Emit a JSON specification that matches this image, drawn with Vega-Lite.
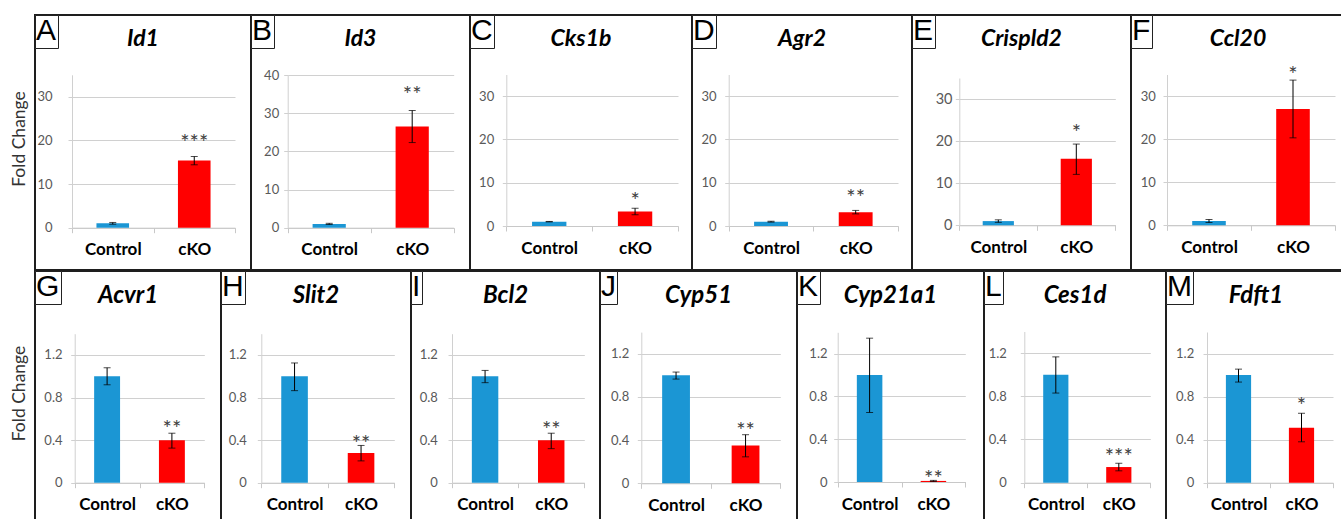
{
"$schema": "https://vega.github.io/schema/vega-lite/v6.json",
"padding": {"left": 9, "top": 13, "right": 0, "bottom": 0},
"background": "white",
"datasets": {"expr": [
{"panel":"A","group":"Control","mean":1.0,"lo":0.8,"hi":1.2,"sig":""},
{"panel":"A","group":"cKO","mean":15.4,"lo":14.4,"hi":16.3,"sig":"***"},
{"panel":"B","group":"Control","mean":1.0,"lo":0.85,"hi":1.15,"sig":""},
{"panel":"B","group":"cKO","mean":26.5,"lo":22.3,"hi":30.7,"sig":"**"},
{"panel":"C","group":"Control","mean":1.0,"lo":0.95,"hi":1.05,"sig":""},
{"panel":"C","group":"cKO","mean":3.35,"lo":2.6,"hi":4.1,"sig":"*"},
{"panel":"D","group":"Control","mean":1.0,"lo":0.9,"hi":1.1,"sig":""},
{"panel":"D","group":"cKO","mean":3.2,"lo":2.8,"hi":3.6,"sig":"**"},
{"panel":"E","group":"Control","mean":1.0,"lo":0.7,"hi":1.3,"sig":""},
{"panel":"E","group":"cKO","mean":15.8,"lo":12.1,"hi":19.3,"sig":"*"},
{"panel":"F","group":"Control","mean":1.0,"lo":0.65,"hi":1.35,"sig":""},
{"panel":"F","group":"cKO","mean":27.0,"lo":20.3,"hi":33.7,"sig":"*"},
{"panel":"G","group":"Control","mean":1.0,"lo":0.92,"hi":1.08,"sig":""},
{"panel":"G","group":"cKO","mean":0.4,"lo":0.325,"hi":0.465,"sig":"**"},
{"panel":"H","group":"Control","mean":1.0,"lo":0.865,"hi":1.125,"sig":""},
{"panel":"H","group":"cKO","mean":0.28,"lo":0.205,"hi":0.35,"sig":"**"},
{"panel":"I","group":"Control","mean":1.0,"lo":0.94,"hi":1.055,"sig":""},
{"panel":"I","group":"cKO","mean":0.4,"lo":0.32,"hi":0.465,"sig":"**"},
{"panel":"J","group":"Control","mean":1.0,"lo":0.965,"hi":1.03,"sig":""},
{"panel":"J","group":"cKO","mean":0.35,"lo":0.245,"hi":0.45,"sig":"**"},
{"panel":"K","group":"Control","mean":1.0,"lo":0.65,"hi":1.345,"sig":""},
{"panel":"K","group":"cKO","mean":0.01,"lo":0.005,"hi":0.015,"sig":"**"},
{"panel":"L","group":"Control","mean":1.0,"lo":0.83,"hi":1.165,"sig":""},
{"panel":"L","group":"cKO","mean":0.145,"lo":0.11,"hi":0.18,"sig":"***"},
{"panel":"M","group":"Control","mean":1.0,"lo":0.935,"hi":1.055,"sig":""},
{"panel":"M","group":"cKO","mean":0.51,"lo":0.38,"hi":0.645,"sig":"*"}
]},
"vconcat": [
{"hconcat": [
{"width":216,"height":255,"title":{"text":"Id1"},"data":{"name":"expr"},"transform":[{"filter":"datum.panel == 'A'"}],
"layer":[
{"mark":{"type":"bar","width":{"band":0.4}},"encoding":{
"x":{"field":"group","type":"nominal","sort":["Control","cKO"],"scale":{"domain":["Control","cKO"],"range":[37,200],"paddingInner":0,"paddingOuter":0},"axis":{"offset":-42.3,"title":null}},
"y":{"field":"mean","type":"quantitative","title":"Fold Change","scale":{"domain":[0,35],"range":[212.7,59.8],"nice":false,"zero":true},"axis":{"offset":-37,"values":[0,10,20,30],"labelPadding":16,"titleX":-43.5,"titleY":123.5,"titleFontSize":17.5}},
"color":{"field":"group","type":"nominal","scale":{"domain":["Control","cKO"],"range":["#1b96d4","#ff0000"]},"legend":{"values":["Control"],"labelExpr":"''","legendX":0,"legendY":0,"title":"A"}}}},
{"mark":{"type":"rule","color":"#000","strokeWidth":1},"encoding":{"x":{"field":"group","type":"nominal","title":null},"y":{"field":"lo","type":"quantitative","title":"Fold Change"},"y2":{"field":"hi"}}},
{"mark":{"type":"tick","color":"#000","thickness":1,"size":7},"encoding":{"x":{"field":"group","type":"nominal","title":null},"y":{"field":"lo","type":"quantitative","title":"Fold Change"}}},
{"mark":{"type":"tick","color":"#000","thickness":1,"size":7},"encoding":{"x":{"field":"group","type":"nominal","title":null},"y":{"field":"hi","type":"quantitative","title":"Fold Change"}}},
{"mark":{"type":"text","dy":-6.6,"baseline":"alphabetic","font":"Lato","fontSize":22,"color":"#404040"},"encoding":{"x":{"field":"group","type":"nominal","title":null},"y":{"field":"hi","type":"quantitative","title":"Fold Change"},"text":{"field":"sig"}}}
]},
{"width":219,"height":255,"title":{"text":"Id3"},"data":{"name":"expr"},"transform":[{"filter":"datum.panel == 'B'"}],
"layer":[
{"mark":{"type":"bar","width":{"band":0.4}},"encoding":{
"x":{"field":"group","type":"nominal","sort":["Control","cKO"],"scale":{"domain":["Control","cKO"],"range":[36.7,202.7],"paddingInner":0,"paddingOuter":0},"axis":{"offset":-42.3,"title":null}},
"y":{"field":"mean","type":"quantitative","title":null,"scale":{"domain":[0,40],"range":[212.7,60],"nice":false,"zero":true},"axis":{"offset":-36.7,"values":[0,10,20,30,40],"labelPadding":5}},
"color":{"field":"group","type":"nominal","scale":{"domain":["Control","cKO"],"range":["#1b96d4","#ff0000"]},"legend":{"values":["Control"],"labelExpr":"''","legendX":0,"legendY":0,"title":"B"}}}},
{"mark":{"type":"rule","color":"#000","strokeWidth":1},"encoding":{"x":{"field":"group","type":"nominal","title":null},"y":{"field":"lo","type":"quantitative","title":null},"y2":{"field":"hi"}}},
{"mark":{"type":"tick","color":"#000","thickness":1,"size":7},"encoding":{"x":{"field":"group","type":"nominal","title":null},"y":{"field":"lo","type":"quantitative","title":null}}},
{"mark":{"type":"tick","color":"#000","thickness":1,"size":7},"encoding":{"x":{"field":"group","type":"nominal","title":null},"y":{"field":"hi","type":"quantitative","title":null}}},
{"mark":{"type":"text","dy":-9.0,"baseline":"alphabetic","font":"Lato","fontSize":22,"color":"#404040"},"encoding":{"x":{"field":"group","type":"nominal","title":null},"y":{"field":"hi","type":"quantitative","title":null},"text":{"field":"sig"}}}
]},
{"width":222,"height":255,"title":{"text":"Cks1b"},"data":{"name":"expr"},"transform":[{"filter":"datum.panel == 'C'"}],
"layer":[
{"mark":{"type":"bar","width":{"band":0.4}},"encoding":{
"x":{"field":"group","type":"nominal","sort":["Control","cKO"],"scale":{"domain":["Control","cKO"],"range":[36.3,208],"paddingInner":0,"paddingOuter":0},"axis":{"offset":-44,"title":null}},
"y":{"field":"mean","type":"quantitative","title":null,"scale":{"domain":[0,35],"range":[211,59.5],"nice":false,"zero":true},"axis":{"offset":-36.3,"values":[0,10,20,30],"labelPadding":8.6}},
"color":{"field":"group","type":"nominal","scale":{"domain":["Control","cKO"],"range":["#1b96d4","#ff0000"]},"legend":{"values":["Control"],"labelExpr":"''","legendX":0,"legendY":0,"title":"C"}}}},
{"mark":{"type":"rule","color":"#000","strokeWidth":1},"encoding":{"x":{"field":"group","type":"nominal","title":null},"y":{"field":"lo","type":"quantitative","title":null},"y2":{"field":"hi"}}},
{"mark":{"type":"tick","color":"#000","thickness":1,"size":7},"encoding":{"x":{"field":"group","type":"nominal","title":null},"y":{"field":"lo","type":"quantitative","title":null}}},
{"mark":{"type":"tick","color":"#000","thickness":1,"size":7},"encoding":{"x":{"field":"group","type":"nominal","title":null},"y":{"field":"hi","type":"quantitative","title":null}}},
{"mark":{"type":"text","dy":0,"baseline":"alphabetic","font":"Lato","fontSize":22,"color":"#404040"},"encoding":{"x":{"field":"group","type":"nominal","title":null},"y":{"field":"hi","type":"quantitative","title":null},"text":{"field":"sig"}}}
]},
{"width":220,"height":255,"title":{"text":"Agr2"},"data":{"name":"expr"},"transform":[{"filter":"datum.panel == 'D'"}],
"layer":[
{"mark":{"type":"bar","width":{"band":0.4}},"encoding":{
"x":{"field":"group","type":"nominal","sort":["Control","cKO"],"scale":{"domain":["Control","cKO"],"range":[36.7,206],"paddingInner":0,"paddingOuter":0},"axis":{"offset":-44,"title":null}},
"y":{"field":"mean","type":"quantitative","title":null,"scale":{"domain":[0,35],"range":[211,59.5],"nice":false,"zero":true},"axis":{"offset":-36.7,"values":[0,10,20,30],"labelPadding":8.7}},
"color":{"field":"group","type":"nominal","scale":{"domain":["Control","cKO"],"range":["#1b96d4","#ff0000"]},"legend":{"values":["Control"],"labelExpr":"''","legendX":0,"legendY":0,"title":"D"}}}},
{"mark":{"type":"rule","color":"#000","strokeWidth":1},"encoding":{"x":{"field":"group","type":"nominal","title":null},"y":{"field":"lo","type":"quantitative","title":null},"y2":{"field":"hi"}}},
{"mark":{"type":"tick","color":"#000","thickness":1,"size":7},"encoding":{"x":{"field":"group","type":"nominal","title":null},"y":{"field":"lo","type":"quantitative","title":null}}},
{"mark":{"type":"tick","color":"#000","thickness":1,"size":7},"encoding":{"x":{"field":"group","type":"nominal","title":null},"y":{"field":"hi","type":"quantitative","title":null}}},
{"mark":{"type":"text","dy":-5.6,"baseline":"alphabetic","font":"Lato","fontSize":22,"color":"#404040"},"encoding":{"x":{"field":"group","type":"nominal","title":null},"y":{"field":"hi","type":"quantitative","title":null},"text":{"field":"sig"}}}
]},
{"width":219,"height":255,"title":{"text":"Crispld2"},"data":{"name":"expr"},"transform":[{"filter":"datum.panel == 'E'"}],
"layer":[
{"mark":{"type":"bar","width":{"band":0.4}},"encoding":{
"x":{"field":"group","type":"nominal","sort":["Control","cKO"],"scale":{"domain":["Control","cKO"],"range":[47.3,203.3],"paddingInner":0,"paddingOuter":0},"axis":{"offset":-44.7,"title":null}},
"y":{"field":"mean","type":"quantitative","title":null,"scale":{"domain":[0,35],"range":[210.3,63],"nice":false,"zero":true},"axis":{"offset":-47.3,"values":[0,10,20,30],"labelPadding":3.3,"labelFontSize":14.5}},
"color":{"field":"group","type":"nominal","scale":{"domain":["Control","cKO"],"range":["#1b96d4","#ff0000"]},"legend":{"values":["Control"],"labelExpr":"''","legendX":0,"legendY":0,"title":"E"}}}},
{"mark":{"type":"rule","color":"#000","strokeWidth":1},"encoding":{"x":{"field":"group","type":"nominal","title":null},"y":{"field":"lo","type":"quantitative","title":null},"y2":{"field":"hi"}}},
{"mark":{"type":"tick","color":"#000","thickness":1,"size":7},"encoding":{"x":{"field":"group","type":"nominal","title":null},"y":{"field":"lo","type":"quantitative","title":null}}},
{"mark":{"type":"tick","color":"#000","thickness":1,"size":7},"encoding":{"x":{"field":"group","type":"nominal","title":null},"y":{"field":"hi","type":"quantitative","title":null}}},
{"mark":{"type":"text","dy":-4.0,"baseline":"alphabetic","font":"Lato","fontSize":22,"color":"#404040"},"encoding":{"x":{"field":"group","type":"nominal","title":null},"y":{"field":"hi","type":"quantitative","title":null},"text":{"field":"sig"}}}
]},
{"width":214,"height":255,"title":{"text":"Ccl20"},"data":{"name":"expr"},"transform":[{"filter":"datum.panel == 'F'"}],
"layer":[
{"mark":{"type":"bar","width":{"band":0.4}},"encoding":{
"x":{"field":"group","type":"nominal","sort":["Control","cKO"],"scale":{"domain":["Control","cKO"],"range":[36,204],"paddingInner":0,"paddingOuter":0},"axis":{"offset":-44.7,"title":null}},
"y":{"field":"mean","type":"quantitative","title":null,"scale":{"domain":[0,35],"range":[210.3,59.5],"nice":false,"zero":true},"axis":{"offset":-36,"values":[0,10,20,30],"labelPadding":7.7}},
"color":{"field":"group","type":"nominal","scale":{"domain":["Control","cKO"],"range":["#1b96d4","#ff0000"]},"legend":{"values":["Control"],"labelExpr":"''","legendX":0,"legendY":0,"title":" F"}}}},
{"mark":{"type":"rule","color":"#000","strokeWidth":1},"encoding":{"x":{"field":"group","type":"nominal","title":null},"y":{"field":"lo","type":"quantitative","title":null},"y2":{"field":"hi"}}},
{"mark":{"type":"tick","color":"#000","thickness":1,"size":7},"encoding":{"x":{"field":"group","type":"nominal","title":null},"y":{"field":"lo","type":"quantitative","title":null}}},
{"mark":{"type":"tick","color":"#000","thickness":1,"size":7},"encoding":{"x":{"field":"group","type":"nominal","title":null},"y":{"field":"hi","type":"quantitative","title":null}}},
{"mark":{"type":"text","dy":2.0,"baseline":"alphabetic","font":"Lato","fontSize":22,"color":"#404040"},"encoding":{"x":{"field":"group","type":"nominal","title":null},"y":{"field":"hi","type":"quantitative","title":null},"text":{"field":"sig"}}}
]}
],"bounds":"flush","spacing":0,"resolve":{"scale":{"color":"independent"},"legend":{"color":"independent"}}},
{"hconcat": [
{"width":186,"height":252,"title":{"text":"Acvr1","fontSize":24,"offset":-37.7},"data":{"name":"expr"},"transform":[{"filter":"datum.panel == 'G'"}],
"layer":[
{"mark":{"type":"bar","width":{"band":0.4}},"encoding":{
"x":{"field":"group","type":"nominal","sort":["Control","cKO"],"scale":{"domain":["Control","cKO"],"range":[39.7,169.3],"paddingInner":0,"paddingOuter":0},"axis":{"offset":-40.3,"title":null}},
"y":{"field":"mean","type":"quantitative","title":"Fold Change","scale":{"domain":[0,1.4],"range":[211.7,62.7],"nice":false,"zero":true},"axis":{"offset":-39.7,"values":[0,0.4,0.8,1.2],"labelPadding":8.7,"titleX":-46.2,"titleY":122,"titleFontSize":17.5}},
"color":{"field":"group","type":"nominal","scale":{"domain":["Control","cKO"],"range":["#1b96d4","#ff0000"]},"legend":{"values":["Control"],"labelExpr":"''","legendX":0,"legendY":0,"title":"G"}}}},
{"mark":{"type":"rule","color":"#000","strokeWidth":1},"encoding":{"x":{"field":"group","type":"nominal","title":null},"y":{"field":"lo","type":"quantitative","title":"Fold Change"},"y2":{"field":"hi"}}},
{"mark":{"type":"tick","color":"#000","thickness":1,"size":7},"encoding":{"x":{"field":"group","type":"nominal","title":null},"y":{"field":"lo","type":"quantitative","title":"Fold Change"}}},
{"mark":{"type":"tick","color":"#000","thickness":1,"size":7},"encoding":{"x":{"field":"group","type":"nominal","title":null},"y":{"field":"hi","type":"quantitative","title":"Fold Change"}}},
{"mark":{"type":"text","dy":2.7,"baseline":"alphabetic","font":"Lato","fontSize":22,"color":"#404040"},"encoding":{"x":{"field":"group","type":"nominal","title":null},"y":{"field":"hi","type":"quantitative","title":"Fold Change"},"text":{"field":"sig"}}}
]},
{"width":190,"height":252,"title":{"text":"Slit2","fontSize":24,"offset":-37.7},"data":{"name":"expr"},"transform":[{"filter":"datum.panel == 'H'"}],
"layer":[
{"mark":{"type":"bar","width":{"band":0.4}},"encoding":{
"x":{"field":"group","type":"nominal","sort":["Control","cKO"],"scale":{"domain":["Control","cKO"],"range":[40.3,173.3],"paddingInner":0,"paddingOuter":0},"axis":{"offset":-40.3,"title":null}},
"y":{"field":"mean","type":"quantitative","title":null,"scale":{"domain":[0,1.4],"range":[211.7,62.7],"nice":false,"zero":true},"axis":{"offset":-40.3,"values":[0,0.4,0.8,1.2],"labelPadding":11}},
"color":{"field":"group","type":"nominal","scale":{"domain":["Control","cKO"],"range":["#1b96d4","#ff0000"]},"legend":{"values":["Control"],"labelExpr":"''","legendX":0,"legendY":0,"title":"H"}}}},
{"mark":{"type":"rule","color":"#000","strokeWidth":1},"encoding":{"x":{"field":"group","type":"nominal","title":null},"y":{"field":"lo","type":"quantitative","title":null},"y2":{"field":"hi"}}},
{"mark":{"type":"tick","color":"#000","thickness":1,"size":7},"encoding":{"x":{"field":"group","type":"nominal","title":null},"y":{"field":"lo","type":"quantitative","title":null}}},
{"mark":{"type":"tick","color":"#000","thickness":1,"size":7},"encoding":{"x":{"field":"group","type":"nominal","title":null},"y":{"field":"hi","type":"quantitative","title":null}}},
{"mark":{"type":"text","dy":5.4,"baseline":"alphabetic","font":"Lato","fontSize":22,"color":"#404040"},"encoding":{"x":{"field":"group","type":"nominal","title":null},"y":{"field":"hi","type":"quantitative","title":null},"text":{"field":"sig"}}}
]},
{"width":189,"height":252,"title":{"text":"Bcl2","fontSize":24,"offset":-37.7},"data":{"name":"expr"},"transform":[{"filter":"datum.panel == 'I'"}],
"layer":[
{"mark":{"type":"bar","width":{"band":0.4}},"encoding":{
"x":{"field":"group","type":"nominal","sort":["Control","cKO"],"scale":{"domain":["Control","cKO"],"range":[41,173.3],"paddingInner":0,"paddingOuter":0},"axis":{"offset":-40.3,"title":null}},
"y":{"field":"mean","type":"quantitative","title":null,"scale":{"domain":[0,1.4],"range":[211.7,62.7],"nice":false,"zero":true},"axis":{"offset":-41,"values":[0,0.4,0.8,1.2],"labelPadding":10.7}},
"color":{"field":"group","type":"nominal","scale":{"domain":["Control","cKO"],"range":["#1b96d4","#ff0000"]},"legend":{"values":["Control"],"labelExpr":"''","legendX":0,"legendY":0,"title":" I "}}}},
{"mark":{"type":"rule","color":"#000","strokeWidth":1},"encoding":{"x":{"field":"group","type":"nominal","title":null},"y":{"field":"lo","type":"quantitative","title":null},"y2":{"field":"hi"}}},
{"mark":{"type":"tick","color":"#000","thickness":1,"size":7},"encoding":{"x":{"field":"group","type":"nominal","title":null},"y":{"field":"lo","type":"quantitative","title":null}}},
{"mark":{"type":"tick","color":"#000","thickness":1,"size":7},"encoding":{"x":{"field":"group","type":"nominal","title":null},"y":{"field":"hi","type":"quantitative","title":null}}},
{"mark":{"type":"text","dy":3.4,"baseline":"alphabetic","font":"Lato","fontSize":22,"color":"#404040"},"encoding":{"x":{"field":"group","type":"nominal","title":null},"y":{"field":"hi","type":"quantitative","title":null},"text":{"field":"sig"}}}
]},
{"width":197,"height":252,"title":{"text":"Cyp51","fontSize":24,"offset":-37.7},"data":{"name":"expr"},"transform":[{"filter":"datum.panel == 'J'"}],
"layer":[
{"mark":{"type":"bar","width":{"band":0.4}},"encoding":{
"x":{"field":"group","type":"nominal","sort":["Control","cKO"],"scale":{"domain":["Control","cKO"],"range":[41.3,180.3],"paddingInner":0,"paddingOuter":0},"axis":{"offset":-39.7,"title":null}},
"y":{"field":"mean","type":"quantitative","title":null,"scale":{"domain":[0,1.4],"range":[212.3,61.1],"nice":false,"zero":true},"axis":{"offset":-41.3,"values":[0,0.4,0.8,1.2],"labelPadding":8.6}},
"color":{"field":"group","type":"nominal","scale":{"domain":["Control","cKO"],"range":["#1b96d4","#ff0000"]},"legend":{"values":["Control"],"labelExpr":"''","legendX":0,"legendY":0,"title":" J"}}}},
{"mark":{"type":"rule","color":"#000","strokeWidth":1},"encoding":{"x":{"field":"group","type":"nominal","title":null},"y":{"field":"lo","type":"quantitative","title":null},"y2":{"field":"hi"}}},
{"mark":{"type":"tick","color":"#000","thickness":1,"size":7},"encoding":{"x":{"field":"group","type":"nominal","title":null},"y":{"field":"lo","type":"quantitative","title":null}}},
{"mark":{"type":"tick","color":"#000","thickness":1,"size":7},"encoding":{"x":{"field":"group","type":"nominal","title":null},"y":{"field":"hi","type":"quantitative","title":null}}},
{"mark":{"type":"text","dy":3.3,"baseline":"alphabetic","font":"Lato","fontSize":22,"color":"#404040"},"encoding":{"x":{"field":"group","type":"nominal","title":null},"y":{"field":"hi","type":"quantitative","title":null},"text":{"field":"sig"}}}
]},
{"width":187,"height":252,"title":{"text":"Cyp21a1","fontSize":24,"offset":-37.7},"data":{"name":"expr"},"transform":[{"filter":"datum.panel == 'K'"}],
"layer":[
{"mark":{"type":"bar","width":{"band":0.4}},"encoding":{
"x":{"field":"group","type":"nominal","sort":["Control","cKO"],"scale":{"domain":["Control","cKO"],"range":[40.7,168.3],"paddingInner":0,"paddingOuter":0},"axis":{"offset":-41,"title":null}},
"y":{"field":"mean","type":"quantitative","title":null,"scale":{"domain":[0,1.4],"range":[211,61.3],"nice":false,"zero":true},"axis":{"offset":-40.7,"values":[0,0.4,0.8,1.2],"labelPadding":6.7}},
"color":{"field":"group","type":"nominal","scale":{"domain":["Control","cKO"],"range":["#1b96d4","#ff0000"]},"legend":{"values":["Control"],"labelExpr":"''","legendX":0,"legendY":0,"title":"K"}}}},
{"mark":{"type":"rule","color":"#000","strokeWidth":1},"encoding":{"x":{"field":"group","type":"nominal","title":null},"y":{"field":"lo","type":"quantitative","title":null},"y2":{"field":"hi"}}},
{"mark":{"type":"tick","color":"#000","thickness":1,"size":7},"encoding":{"x":{"field":"group","type":"nominal","title":null},"y":{"field":"lo","type":"quantitative","title":null}}},
{"mark":{"type":"tick","color":"#000","thickness":1,"size":7},"encoding":{"x":{"field":"group","type":"nominal","title":null},"y":{"field":"hi","type":"quantitative","title":null}}},
{"mark":{"type":"text","dy":5.6,"baseline":"alphabetic","font":"Lato","fontSize":22,"color":"#404040"},"encoding":{"x":{"field":"group","type":"nominal","title":null},"y":{"field":"hi","type":"quantitative","title":null},"text":{"field":"sig"}}}
]},
{"width":182,"height":252,"title":{"text":"Ces1d","fontSize":24,"offset":-37.7},"data":{"name":"expr"},"transform":[{"filter":"datum.panel == 'L'"}],
"layer":[
{"mark":{"type":"bar","width":{"band":0.4}},"encoding":{
"x":{"field":"group","type":"nominal","sort":["Control","cKO"],"scale":{"domain":["Control","cKO"],"range":[40.3,166.3],"paddingInner":0,"paddingOuter":0},"axis":{"offset":-40.3,"title":null}},
"y":{"field":"mean","type":"quantitative","title":null,"scale":{"domain":[0,1.4],"range":[211.7,60.5],"nice":false,"zero":true},"axis":{"offset":-40.3,"values":[0,0.4,0.8,1.2],"labelPadding":14}},
"color":{"field":"group","type":"nominal","scale":{"domain":["Control","cKO"],"range":["#1b96d4","#ff0000"]},"legend":{"values":["Control"],"labelExpr":"''","legendX":0,"legendY":0,"title":"L"}}}},
{"mark":{"type":"rule","color":"#000","strokeWidth":1},"encoding":{"x":{"field":"group","type":"nominal","title":null},"y":{"field":"lo","type":"quantitative","title":null},"y2":{"field":"hi"}}},
{"mark":{"type":"tick","color":"#000","thickness":1,"size":7},"encoding":{"x":{"field":"group","type":"nominal","title":null},"y":{"field":"lo","type":"quantitative","title":null}}},
{"mark":{"type":"tick","color":"#000","thickness":1,"size":7},"encoding":{"x":{"field":"group","type":"nominal","title":null},"y":{"field":"hi","type":"quantitative","title":null}}},
{"mark":{"type":"text","dy":0.3,"baseline":"alphabetic","font":"Lato","fontSize":22,"color":"#404040"},"encoding":{"x":{"field":"group","type":"nominal","title":null},"y":{"field":"hi","type":"quantitative","title":null},"text":{"field":"sig"}}}
]},
{"width":180,"height":252,"title":{"text":"Fdft1","fontSize":24,"offset":-37.7},"data":{"name":"expr"},"transform":[{"filter":"datum.panel == 'M'"}],
"layer":[
{"mark":{"type":"bar","width":{"band":0.4}},"encoding":{
"x":{"field":"group","type":"nominal","sort":["Control","cKO"],"scale":{"domain":["Control","cKO"],"range":[41,167],"paddingInner":0,"paddingOuter":0},"axis":{"offset":-40.3,"title":null}},
"y":{"field":"mean","type":"quantitative","title":null,"scale":{"domain":[0,1.4],"range":[211.7,61],"nice":false,"zero":true},"axis":{"offset":-41,"values":[0,0.4,0.8,1.2],"labelPadding":9.3}},
"color":{"field":"group","type":"nominal","scale":{"domain":["Control","cKO"],"range":["#1b96d4","#ff0000"]},"legend":{"values":["Control"],"labelExpr":"''","legendX":0,"legendY":0,"title":"M"}}}},
{"mark":{"type":"rule","color":"#000","strokeWidth":1},"encoding":{"x":{"field":"group","type":"nominal","title":null},"y":{"field":"lo","type":"quantitative","title":null},"y2":{"field":"hi"}}},
{"mark":{"type":"tick","color":"#000","thickness":1,"size":7},"encoding":{"x":{"field":"group","type":"nominal","title":null},"y":{"field":"lo","type":"quantitative","title":null}}},
{"mark":{"type":"tick","color":"#000","thickness":1,"size":7},"encoding":{"x":{"field":"group","type":"nominal","title":null},"y":{"field":"hi","type":"quantitative","title":null}}},
{"mark":{"type":"text","dy":-0.4,"baseline":"alphabetic","font":"Lato","fontSize":22,"color":"#404040"},"encoding":{"x":{"field":"group","type":"nominal","title":null},"y":{"field":"hi","type":"quantitative","title":null},"text":{"field":"sig"}}}
]}
],"bounds":"flush","spacing":0,"resolve":{"scale":{"color":"independent"},"legend":{"color":"independent"}}}
],
"spacing": -2,
"bounds": "full",
"resolve":{"scale":{"color":"independent"},"legend":{"color":"independent"}},
"config": {
"view": {"stroke": "#1e1e1e", "strokeWidth": 2, "fill": "white"},
"title": {"font": "Lato", "fontSize": 23, "fontWeight": "bold", "fontStyle": "italic", "color": "#000", "frame": "group", "anchor": "middle", "baseline": "alphabetic", "offset": -36},
"axisX": {"domainColor": "#c8c8c8", "domainWidth": 1, "tickColor": "#c8c8c8", "tickSize": 5, "tickBand": "extent", "labelFont": "Lato", "labelFontWeight": "bold", "labelFontSize": 17, "labelColor": "#000", "labelPadding": 9, "labelAngle": 0, "grid": false},
"axisY": {"domainColor": "#d0d0d0", "domainWidth": 1, "gridColor": "#d0d0d0", "gridWidth": 1, "grid": true, "tickColor": "#d0d0d0", "tickSize": 4, "labelFont": "Lato", "labelFontSize": 13, "labelColor": "#595959", "format": "~g", "titleFont": "Lato", "titleFontWeight": "normal", "titleColor": "#333", "titleAngle": -90, "titleBaseline": "bottom"},
"legend": {"orient": "none", "symbolSize": 0, "symbolOpacity": 0, "symbolStrokeWidth": 0, "symbolType": "square", "labelFontSize": 1, "labelOffset": 0, "titleFont": "Liberation Sans", "titleFontSize": 30, "titleFontWeight": "normal", "titleColor": "#000", "titlePadding": 0, "padding": 1, "strokeColor": "#222", "fillColor": "#fff", "cornerRadius": 0}
}
}
